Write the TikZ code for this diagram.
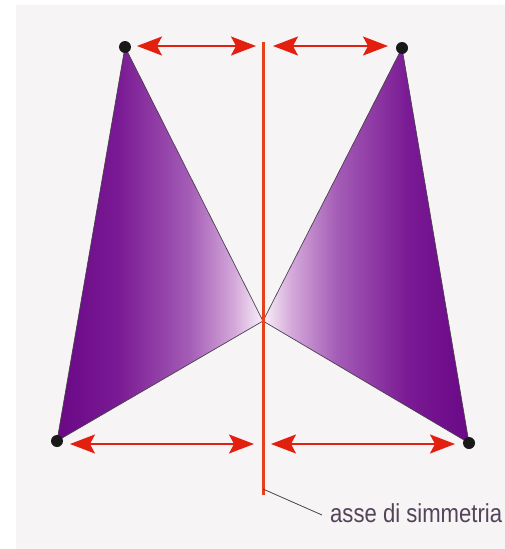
\documentclass[tikz,border=0pt]{standalone}
\usepackage{fontspec}
\newfontfamily\labfont[FakeStretch=0.85]{Liberation Sans}
\usetikzlibrary{arrows.meta}
\definecolor{bgcream}{HTML}{F6F4F4}
\definecolor{pdark}{HTML}{6A0886}
\definecolor{pdark2}{HTML}{7A1A94}
\definecolor{pmid}{HTML}{A45CB6}
\definecolor{plight}{HTML}{D4A8DA}
\definecolor{pwhite}{HTML}{F8F0F8}
\definecolor{axisred}{HTML}{E8401A}
\definecolor{arrowred}{HTML}{E3200F}
\definecolor{labgrey}{HTML}{54445A}
\definecolor{edgegrey}{HTML}{4A4050}
\pgfdeclarehorizontalshading{purplegrad}{100bp}{color(0bp)=(pdark); color(25bp)=(pdark); color(40bp)=(pdark2); color(57bp)=(pmid); color(68bp)=(plight); color(75bp)=(pwhite); color(100bp)=(pwhite)}
\tikzset{
  tri/.style={draw=edgegrey, line width=0.7pt, line join=round, shading=purplegrad},
  dimarrow/.style={draw=arrowred, line width=1.8pt, {Stealth[length=25pt,width=19pt,inset=5pt,fill=arrowred]}-{Stealth[length=25pt,width=19pt,inset=5pt,fill=arrowred]}},
  vdot/.style={circle, fill=black!90, inner sep=0pt, minimum size=12pt},
  axisline/.style={draw=axisred, line width=3pt},
  leader/.style={draw=edgegrey, line width=0.8pt},
  lab/.style={text=labgrey, font=\labfont\fontsize{26}{28}\selectfont, inner sep=0pt, anchor=base west}
}
\begin{document}
\begin{tikzpicture}[x=1pt,y=-1pt]
\useasboundingbox (0,0) rectangle (505,549);
\fill[white] (0,0) rectangle (505,549);
\fill[bgcream] (16,5) rectangle (505,549);
% vertices
\coordinate (T1) at (125,47);
\coordinate (B1) at (57,441);
\coordinate (C) at (263,321);
\coordinate (T2) at (402,48);
\coordinate (B2) at (469,443);
% triangles
\path[tri] (T1) -- (B1) -- (C) -- cycle;
\path[tri, shading angle=180] (T2) -- (B2) -- (C) -- cycle;
% axis
\coordinate (AT) at (263,42);
\coordinate (AB) at (263,495);
\coordinate (AL) at (263,489);
\draw[axisline] (AT) -- (AB);
% arrows
\coordinate (a1s) at (137,46);
\coordinate (a1e) at (256,46);
\coordinate (a2s) at (273,46);
\coordinate (a2e) at (388,46);
\coordinate (a3s) at (70,444);
\coordinate (a3e) at (254,444);
\coordinate (a4s) at (271,444);
\coordinate (a4e) at (455,444);
\draw[dimarrow] (a1s) -- (a1e);
\draw[dimarrow] (a2s) -- (a2e);
\draw[dimarrow] (a3s) -- (a3e);
\draw[dimarrow] (a4s) -- (a4e);
% dots
\node[vdot] (d1) at (T1) {};
\node[vdot] (d2) at (T2) {};
\node[vdot] (d3) at (B1) {};
\node[vdot] (d4) at (B2) {};
% label
\node[lab] (label) at (330,522) {asse di simmetria};
\coordinate (LE) at (322,515);
\draw[leader] (AL) -- (LE);
\end{tikzpicture}
\end{document}
